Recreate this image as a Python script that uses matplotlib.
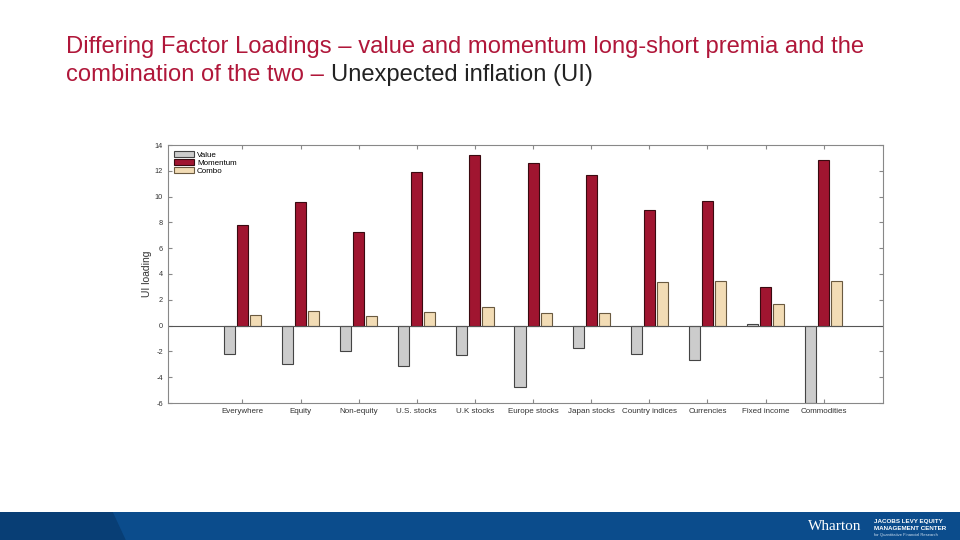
import matplotlib
matplotlib.use("Agg")
import matplotlib.pyplot as plt
import numpy as np

plt.rcParams["font.family"] = "Liberation Sans"

categories = ["Everywhere", "Equity", "Non-equity", "U.S. stocks", "U.K stocks", "Europe stocks",
              "Japan stocks", "Country indices", "Currencies", "Fixed income", "Commodities"]
value = [-2.2, -3.0, -1.95, -3.1, -2.3, -4.75, -1.7, -2.2, -2.65, 0.13, -6.0]
momentum = [7.8, 9.55, 7.25, 11.9, 13.2, 12.6, 11.65, 8.95, 9.65, 3.0, 12.8]
combo = [0.8, 1.15, 0.75, 1.05, 1.45, 0.95, 0.95, 3.35, 3.45, 1.65, 3.45]
yticks = list(range(-6, 15, 2))

fig = plt.figure(figsize=(9.6, 5.4), dpi=100)
fs = 17.1
fig.text(66/960, 1 - 36/540, "Differing Factor Loadings – value and momentum long-short premia and the",
         color="#B0173A", fontsize=fs, va="top", ha="left")
t2 = fig.text(66/960, 1 - 64/540, "combination of the two – ", color="#B0173A", fontsize=fs, va="top", ha="left")
fig.canvas.draw()
bb = t2.get_window_extent()
fig.text(bb.x1 / 960, 1 - 64/540, "Unexpected inflation (UI)", color="#222222", fontsize=fs, va="top", ha="left")

ax = fig.add_axes([168/960, 1 - 403/540, (883-168)/960, (403-145)/540])
x = np.arange(len(categories))
w = 0.19
off = 0.225
ax.bar(x - off, value, w, color="#CCCCCC", edgecolor="#444444", linewidth=0.8, label="Value")
ax.bar(x, momentum, w, color="#A01530", edgecolor="#3a0a10", linewidth=0.8, label="Momentum")
ax.bar(x + off, combo, w, color="#F2DCB5", edgecolor="#6a5a40", linewidth=0.8, label="Combo")
ax.axhline(0, color="#555555", linewidth=0.8)
ax.set_xlim(-1.28, 11.02)
ax.set_ylim(-6, 14)
ax.set_xticks(x)
ax.set_xticklabels(categories, fontsize=5.8, color="#333333")
ax.set_yticks(yticks)
ax.set_yticklabels([str(t) for t in yticks], fontsize=5.3, color="#333333")
ax.tick_params(direction="in", length=3, color="#888888", top=True, right=True, labeltop=False, labelright=False)
for s in ax.spines.values():
    s.set_color("#888888")
    s.set_linewidth(0.8)
ax.set_ylabel("UI loading", fontsize=7.5, color="#333333", labelpad=2)
ax.legend(loc="upper left", fontsize=5.8, frameon=False, handlelength=2.5, handleheight=0.8,
          labelspacing=0.05, borderaxespad=0.3, handletextpad=0.4)

# footer band
fax = fig.add_axes([0, 0, 1, 28/540])
fax.set_xlim(0, 960); fax.set_ylim(0, 28)
fax.axis("off")
fax.add_patch(plt.Rectangle((0, 0), 960, 28, color="#0B4C8C"))
fax.add_patch(plt.Polygon([(0, 0), (125, 0), (112, 28), (0, 28)], color="#083E75"))
fax.text(808, 13, "Wharton", color="white", fontsize=11, family="Liberation Serif", va="center")
fax.text(874, 19, "JACOBS LEVY EQUITY", color="white", fontsize=4.5, weight="bold", va="center")
fax.text(874, 12, "MANAGEMENT CENTER", color="white", fontsize=4.5, weight="bold", va="center")
fax.text(874, 5, "for Quantitative Financial Research", color="#cfe0f0", fontsize=3, va="center")

fig.savefig("out.png", dpi=100)
